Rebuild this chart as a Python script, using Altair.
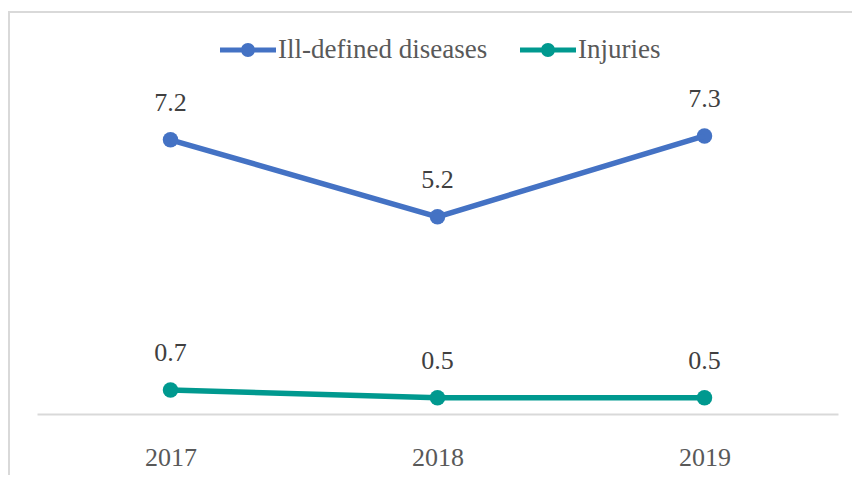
import altair as alt
import pandas as pd

years = ["2017", "2018", "2019"]
series = ["Ill-defined diseases", "Injuries"]
ill_defined = [7.2, 5.2, 7.3]
injuries = [0.7, 0.5, 0.5]
colors = ["#4472C4", "#00998F"]

rows = []
for s, vals in zip(series, [ill_defined, injuries]):
    for yr, v in zip(years, vals):
        rows.append({"year": yr, "series": s, "value": v})
df = pd.DataFrame(rows)

FONT = "Liberation Serif"
base = alt.Chart(df)

x = alt.X(
    "year:N",
    scale=alt.Scale(type="point", padding=0.5),
    axis=alt.Axis(
        title=None, labelAngle=0, ticks=False, grid=False, offset=-3,
        domainColor="#D9D9D9", domainWidth=2,
        labelFont=FONT, labelFontSize=26, labelColor="#595959", labelPadding=30,
    ),
)
y = alt.Y("value:Q", scale=alt.Scale(domain=[0, 8]), axis=None)

legend_path = ("M-1,-0.09H1V0.09H-1Z "
               "M0.25,0A0.25,0.25 0 1,1 -0.25,0A0.25,0.25 0 1,1 0.25,0Z")
legend = alt.Legend(
    title=None, orient="none", legendX=183, legendY=-87,
    direction="horizontal", symbolType=legend_path, symbolSize=3136,
    symbolStrokeWidth=0, symbolOpacity=1,
    labelFont=FONT, labelFontSize=27, labelColor="#595959",
    labelOffset=2, columnPadding=32, labelLimit=0,
)
color = alt.Color("series:N", scale=alt.Scale(domain=series, range=colors), legend=legend)

points = base.mark_point(filled=True, size=240, opacity=1).encode(x=x, y=y, color=color)
line = base.mark_line(strokeWidth=5.5).encode(x=x, y=y, color=color)
labels = base.mark_text(dy=-37, font=FONT, fontSize=26, color="#404040").encode(
    x=x, y=y, text=alt.Text("value:Q", format=".1f")
)
border = alt.Chart(pd.DataFrame({"a": [0]})).mark_rect(
    fill="transparent", stroke="#D9D9D9", strokeWidth=2
).encode(
    x=alt.value(-28), x2=alt.value(900), y=alt.value(-97), y2=alt.value(700)
)

chart = alt.layer(border, points, line, labels).properties(
    width=801, height=308,
    padding={"left": 29, "top": 101, "right": 14, "bottom": 58},
    autosize=alt.AutoSizeParams(type="none"),
    background="white",
).configure_view(stroke=None)

chart.save("out.html", embed_options={"renderer": "svg", "actions": False})
